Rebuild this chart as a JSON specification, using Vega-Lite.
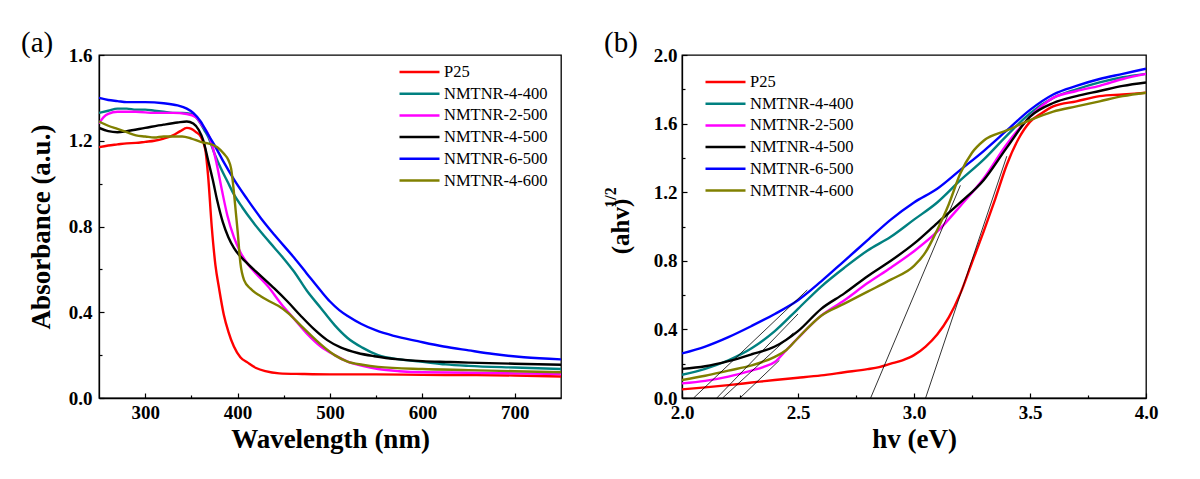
{
  "$schema": "https://vega.github.io/schema/vega-lite/v6.json",
  "padding": {"left": 20, "top": 28, "right": 5, "bottom": 5},
  "background": "white",
  "spacing": 39,
  "resolve": {"scale": {"color": "independent"}},
  "config": {
    "view": {"stroke": "black", "strokeWidth": 1.3},
    "axis": {
      "labelFont": "Liberation Serif", "labelFontWeight": "bold", "labelFontSize": 19, "labelColor": "black",
      "titleFont": "Liberation Serif", "titleFontWeight": "bold", "titleFontSize": 27, "titleColor": "black",
      "grid": false, "domainColor": "black", "domainWidth": 1.3, "tickColor": "black", "tickWidth": 1.2,
      "labelOverlap": false, "labelFlush": false, "labelBound": false, "labelPadding": 10
    },
    "legend": {
      "labelFont": "Liberation Serif", "labelFontSize": 16.5, "labelColor": "black",
      "symbolType": "stroke", "symbolSize": 1600, "symbolStrokeWidth": 2.5,
      "clipHeight": 20, "rowPadding": 1.7, "labelOffset": 3, "orient": "none", "title": null, "padding": 0
    },
    "title": {"font": "Liberation Serif", "fontSize": 29, "fontWeight": "normal", "anchor": "start", "frame": "group", "dx": -78, "offset": -12, "color": "black"}
  },
  "datasets": {
    "absorb": [
      {"sample":"P25","nm":250,"A":1.17},{"sample":"P25","nm":260,"A":1.178},{"sample":"P25","nm":270,"A":1.183},{"sample":"P25","nm":280,"A":1.188},{"sample":"P25","nm":290,"A":1.19},{"sample":"P25","nm":300,"A":1.195},{"sample":"P25","nm":310,"A":1.2},{"sample":"P25","nm":320,"A":1.21},{"sample":"P25","nm":330,"A":1.225},{"sample":"P25","nm":338,"A":1.245},{"sample":"P25","nm":345,"A":1.26},{"sample":"P25","nm":350,"A":1.255},{"sample":"P25","nm":355,"A":1.24},{"sample":"P25","nm":360,"A":1.22},{"sample":"P25","nm":365,"A":1.16},{"sample":"P25","nm":368,"A":1.04},{"sample":"P25","nm":372,"A":0.8},{"sample":"P25","nm":376,"A":0.62},{"sample":"P25","nm":380,"A":0.51},{"sample":"P25","nm":385,"A":0.39},{"sample":"P25","nm":390,"A":0.31},{"sample":"P25","nm":396,"A":0.24},{"sample":"P25","nm":403,"A":0.19},{"sample":"P25","nm":411,"A":0.165},{"sample":"P25","nm":420,"A":0.14},{"sample":"P25","nm":430,"A":0.125},{"sample":"P25","nm":445,"A":0.115},{"sample":"P25","nm":470,"A":0.112},{"sample":"P25","nm":500,"A":0.11},{"sample":"P25","nm":550,"A":0.11},{"sample":"P25","nm":600,"A":0.108},{"sample":"P25","nm":650,"A":0.107},{"sample":"P25","nm":700,"A":0.105},{"sample":"P25","nm":750,"A":0.1},
      {"sample":"NMTNR-4-400","nm":250,"A":1.33},{"sample":"NMTNR-4-400","nm":260,"A":1.34},{"sample":"NMTNR-4-400","nm":270,"A":1.35},{"sample":"NMTNR-4-400","nm":280,"A":1.35},{"sample":"NMTNR-4-400","nm":290,"A":1.345},{"sample":"NMTNR-4-400","nm":300,"A":1.345},{"sample":"NMTNR-4-400","nm":310,"A":1.34},{"sample":"NMTNR-4-400","nm":320,"A":1.335},{"sample":"NMTNR-4-400","nm":330,"A":1.33},{"sample":"NMTNR-4-400","nm":340,"A":1.33},{"sample":"NMTNR-4-400","nm":350,"A":1.325},{"sample":"NMTNR-4-400","nm":355,"A":1.31},{"sample":"NMTNR-4-400","nm":360,"A":1.28},{"sample":"NMTNR-4-400","nm":364,"A":1.25},{"sample":"NMTNR-4-400","nm":368,"A":1.22},{"sample":"NMTNR-4-400","nm":375,"A":1.14},{"sample":"NMTNR-4-400","nm":382,"A":1.07},{"sample":"NMTNR-4-400","nm":389,"A":1.01},{"sample":"NMTNR-4-400","nm":396,"A":0.95},{"sample":"NMTNR-4-400","nm":405,"A":0.89},{"sample":"NMTNR-4-400","nm":415,"A":0.83},{"sample":"NMTNR-4-400","nm":425,"A":0.775},{"sample":"NMTNR-4-400","nm":440,"A":0.7},{"sample":"NMTNR-4-400","nm":450,"A":0.65},{"sample":"NMTNR-4-400","nm":461,"A":0.59},{"sample":"NMTNR-4-400","nm":475,"A":0.5},{"sample":"NMTNR-4-400","nm":490,"A":0.42},{"sample":"NMTNR-4-400","nm":505,"A":0.34},{"sample":"NMTNR-4-400","nm":519,"A":0.28},{"sample":"NMTNR-4-400","nm":535,"A":0.235},{"sample":"NMTNR-4-400","nm":552,"A":0.2},{"sample":"NMTNR-4-400","nm":575,"A":0.18},{"sample":"NMTNR-4-400","nm":598,"A":0.17},{"sample":"NMTNR-4-400","nm":625,"A":0.157},{"sample":"NMTNR-4-400","nm":650,"A":0.15},{"sample":"NMTNR-4-400","nm":700,"A":0.142},{"sample":"NMTNR-4-400","nm":750,"A":0.135},
      {"sample":"NMTNR-2-500","nm":250,"A":1.28},{"sample":"NMTNR-2-500","nm":255,"A":1.31},{"sample":"NMTNR-2-500","nm":260,"A":1.325},{"sample":"NMTNR-2-500","nm":270,"A":1.335},{"sample":"NMTNR-2-500","nm":290,"A":1.335},{"sample":"NMTNR-2-500","nm":310,"A":1.33},{"sample":"NMTNR-2-500","nm":330,"A":1.33},{"sample":"NMTNR-2-500","nm":345,"A":1.325},{"sample":"NMTNR-2-500","nm":355,"A":1.31},{"sample":"NMTNR-2-500","nm":362,"A":1.27},{"sample":"NMTNR-2-500","nm":367,"A":1.24},{"sample":"NMTNR-2-500","nm":371,"A":1.2},{"sample":"NMTNR-2-500","nm":377,"A":1.1},{"sample":"NMTNR-2-500","nm":383,"A":0.97},{"sample":"NMTNR-2-500","nm":389,"A":0.85},{"sample":"NMTNR-2-500","nm":396,"A":0.75},{"sample":"NMTNR-2-500","nm":403,"A":0.68},{"sample":"NMTNR-2-500","nm":411,"A":0.625},{"sample":"NMTNR-2-500","nm":420,"A":0.58},{"sample":"NMTNR-2-500","nm":433,"A":0.52},{"sample":"NMTNR-2-500","nm":447,"A":0.44},{"sample":"NMTNR-2-500","nm":461,"A":0.37},{"sample":"NMTNR-2-500","nm":475,"A":0.3},{"sample":"NMTNR-2-500","nm":490,"A":0.24},{"sample":"NMTNR-2-500","nm":505,"A":0.2},{"sample":"NMTNR-2-500","nm":519,"A":0.17},{"sample":"NMTNR-2-500","nm":535,"A":0.15},{"sample":"NMTNR-2-500","nm":552,"A":0.135},{"sample":"NMTNR-2-500","nm":575,"A":0.125},{"sample":"NMTNR-2-500","nm":600,"A":0.12},{"sample":"NMTNR-2-500","nm":650,"A":0.118},{"sample":"NMTNR-2-500","nm":700,"A":0.115},{"sample":"NMTNR-2-500","nm":750,"A":0.112},
      {"sample":"NMTNR-4-500","nm":250,"A":1.26},{"sample":"NMTNR-4-500","nm":260,"A":1.245},{"sample":"NMTNR-4-500","nm":270,"A":1.24},{"sample":"NMTNR-4-500","nm":280,"A":1.245},{"sample":"NMTNR-4-500","nm":300,"A":1.26},{"sample":"NMTNR-4-500","nm":320,"A":1.275},{"sample":"NMTNR-4-500","nm":335,"A":1.285},{"sample":"NMTNR-4-500","nm":345,"A":1.29},{"sample":"NMTNR-4-500","nm":352,"A":1.28},{"sample":"NMTNR-4-500","nm":358,"A":1.25},{"sample":"NMTNR-4-500","nm":363,"A":1.2},{"sample":"NMTNR-4-500","nm":368,"A":1.11},{"sample":"NMTNR-4-500","nm":373,"A":1.02},{"sample":"NMTNR-4-500","nm":378,"A":0.92},{"sample":"NMTNR-4-500","nm":384,"A":0.82},{"sample":"NMTNR-4-500","nm":390,"A":0.75},{"sample":"NMTNR-4-500","nm":396,"A":0.7},{"sample":"NMTNR-4-500","nm":410,"A":0.63},{"sample":"NMTNR-4-500","nm":425,"A":0.57},{"sample":"NMTNR-4-500","nm":440,"A":0.51},{"sample":"NMTNR-4-500","nm":454,"A":0.45},{"sample":"NMTNR-4-500","nm":468,"A":0.385},{"sample":"NMTNR-4-500","nm":483,"A":0.32},{"sample":"NMTNR-4-500","nm":497,"A":0.27},{"sample":"NMTNR-4-500","nm":512,"A":0.235},{"sample":"NMTNR-4-500","nm":530,"A":0.21},{"sample":"NMTNR-4-500","nm":548,"A":0.195},{"sample":"NMTNR-4-500","nm":575,"A":0.18},{"sample":"NMTNR-4-500","nm":600,"A":0.172},{"sample":"NMTNR-4-500","nm":630,"A":0.168},{"sample":"NMTNR-4-500","nm":650,"A":0.165},{"sample":"NMTNR-4-500","nm":700,"A":0.16},{"sample":"NMTNR-4-500","nm":750,"A":0.155},
      {"sample":"NMTNR-6-500","nm":250,"A":1.4},{"sample":"NMTNR-6-500","nm":260,"A":1.39},{"sample":"NMTNR-6-500","nm":270,"A":1.385},{"sample":"NMTNR-6-500","nm":280,"A":1.38},{"sample":"NMTNR-6-500","nm":300,"A":1.38},{"sample":"NMTNR-6-500","nm":320,"A":1.375},{"sample":"NMTNR-6-500","nm":335,"A":1.365},{"sample":"NMTNR-6-500","nm":345,"A":1.35},{"sample":"NMTNR-6-500","nm":352,"A":1.33},{"sample":"NMTNR-6-500","nm":360,"A":1.29},{"sample":"NMTNR-6-500","nm":368,"A":1.23},{"sample":"NMTNR-6-500","nm":375,"A":1.18},{"sample":"NMTNR-6-500","nm":385,"A":1.1},{"sample":"NMTNR-6-500","nm":396,"A":1.02},{"sample":"NMTNR-6-500","nm":410,"A":0.93},{"sample":"NMTNR-6-500","nm":425,"A":0.84},{"sample":"NMTNR-6-500","nm":440,"A":0.76},{"sample":"NMTNR-6-500","nm":461,"A":0.655},{"sample":"NMTNR-6-500","nm":475,"A":0.58},{"sample":"NMTNR-6-500","nm":490,"A":0.5},{"sample":"NMTNR-6-500","nm":500,"A":0.45},{"sample":"NMTNR-6-500","nm":510,"A":0.41},{"sample":"NMTNR-6-500","nm":520,"A":0.38},{"sample":"NMTNR-6-500","nm":534,"A":0.345},{"sample":"NMTNR-6-500","nm":550,"A":0.315},{"sample":"NMTNR-6-500","nm":569,"A":0.29},{"sample":"NMTNR-6-500","nm":595,"A":0.265},{"sample":"NMTNR-6-500","nm":623,"A":0.24},{"sample":"NMTNR-6-500","nm":650,"A":0.222},{"sample":"NMTNR-6-500","nm":677,"A":0.205},{"sample":"NMTNR-6-500","nm":710,"A":0.19},{"sample":"NMTNR-6-500","nm":750,"A":0.18},
      {"sample":"NMTNR-4-600","nm":250,"A":1.29},{"sample":"NMTNR-4-600","nm":260,"A":1.27},{"sample":"NMTNR-4-600","nm":270,"A":1.255},{"sample":"NMTNR-4-600","nm":280,"A":1.24},{"sample":"NMTNR-4-600","nm":290,"A":1.225},{"sample":"NMTNR-4-600","nm":300,"A":1.22},{"sample":"NMTNR-4-600","nm":310,"A":1.215},{"sample":"NMTNR-4-600","nm":320,"A":1.22},{"sample":"NMTNR-4-600","nm":330,"A":1.22},{"sample":"NMTNR-4-600","nm":340,"A":1.22},{"sample":"NMTNR-4-600","nm":350,"A":1.21},{"sample":"NMTNR-4-600","nm":360,"A":1.195},{"sample":"NMTNR-4-600","nm":370,"A":1.185},{"sample":"NMTNR-4-600","nm":378,"A":1.17},{"sample":"NMTNR-4-600","nm":385,"A":1.14},{"sample":"NMTNR-4-600","nm":390,"A":1.11},{"sample":"NMTNR-4-600","nm":393,"A":1.07},{"sample":"NMTNR-4-600","nm":396,"A":0.96},{"sample":"NMTNR-4-600","nm":398,"A":0.87},{"sample":"NMTNR-4-600","nm":400,"A":0.78},{"sample":"NMTNR-4-600","nm":403,"A":0.63},{"sample":"NMTNR-4-600","nm":407,"A":0.55},{"sample":"NMTNR-4-600","nm":414,"A":0.51},{"sample":"NMTNR-4-600","nm":425,"A":0.475},{"sample":"NMTNR-4-600","nm":435,"A":0.45},{"sample":"NMTNR-4-600","nm":444,"A":0.43},{"sample":"NMTNR-4-600","nm":455,"A":0.395},{"sample":"NMTNR-4-600","nm":468,"A":0.34},{"sample":"NMTNR-4-600","nm":480,"A":0.29},{"sample":"NMTNR-4-600","nm":490,"A":0.25},{"sample":"NMTNR-4-600","nm":505,"A":0.2},{"sample":"NMTNR-4-600","nm":519,"A":0.17},{"sample":"NMTNR-4-600","nm":535,"A":0.155},{"sample":"NMTNR-4-600","nm":552,"A":0.145},{"sample":"NMTNR-4-600","nm":600,"A":0.135},{"sample":"NMTNR-4-600","nm":650,"A":0.13},{"sample":"NMTNR-4-600","nm":700,"A":0.125},{"sample":"NMTNR-4-600","nm":750,"A":0.12}
    ],
    "tauc": [
      {"sample":"P25","eV":2.0,"F":0.05},{"sample":"P25","eV":2.1,"F":0.062},{"sample":"P25","eV":2.2,"F":0.075},{"sample":"P25","eV":2.3,"F":0.09},{"sample":"P25","eV":2.4,"F":0.105},{"sample":"P25","eV":2.5,"F":0.118},{"sample":"P25","eV":2.6,"F":0.132},{"sample":"P25","eV":2.7,"F":0.15},{"sample":"P25","eV":2.8,"F":0.168},{"sample":"P25","eV":2.85,"F":0.18},{"sample":"P25","eV":2.9,"F":0.2},{"sample":"P25","eV":2.95,"F":0.22},{"sample":"P25","eV":3.0,"F":0.25},{"sample":"P25","eV":3.05,"F":0.3},{"sample":"P25","eV":3.1,"F":0.37},{"sample":"P25","eV":3.15,"F":0.47},{"sample":"P25","eV":3.2,"F":0.61},{"sample":"P25","eV":3.25,"F":0.79},{"sample":"P25","eV":3.3,"F":0.97},{"sample":"P25","eV":3.35,"F":1.16},{"sample":"P25","eV":3.4,"F":1.36},{"sample":"P25","eV":3.45,"F":1.51},{"sample":"P25","eV":3.5,"F":1.61},{"sample":"P25","eV":3.55,"F":1.66},{"sample":"P25","eV":3.6,"F":1.7},{"sample":"P25","eV":3.7,"F":1.73},{"sample":"P25","eV":3.8,"F":1.76},{"sample":"P25","eV":3.9,"F":1.77},{"sample":"P25","eV":4.0,"F":1.78},
      {"sample":"NMTNR-4-400","eV":2.0,"F":0.135},{"sample":"NMTNR-4-400","eV":2.1,"F":0.17},{"sample":"NMTNR-4-400","eV":2.2,"F":0.22},{"sample":"NMTNR-4-400","eV":2.3,"F":0.29},{"sample":"NMTNR-4-400","eV":2.4,"F":0.39},{"sample":"NMTNR-4-400","eV":2.5,"F":0.52},{"sample":"NMTNR-4-400","eV":2.6,"F":0.65},{"sample":"NMTNR-4-400","eV":2.7,"F":0.76},{"sample":"NMTNR-4-400","eV":2.8,"F":0.86},{"sample":"NMTNR-4-400","eV":2.9,"F":0.94},{"sample":"NMTNR-4-400","eV":3.0,"F":1.04},{"sample":"NMTNR-4-400","eV":3.1,"F":1.14},{"sample":"NMTNR-4-400","eV":3.2,"F":1.27},{"sample":"NMTNR-4-400","eV":3.3,"F":1.39},{"sample":"NMTNR-4-400","eV":3.4,"F":1.53},{"sample":"NMTNR-4-400","eV":3.5,"F":1.66},{"sample":"NMTNR-4-400","eV":3.6,"F":1.75},{"sample":"NMTNR-4-400","eV":3.7,"F":1.8},{"sample":"NMTNR-4-400","eV":3.8,"F":1.84},{"sample":"NMTNR-4-400","eV":3.9,"F":1.87},{"sample":"NMTNR-4-400","eV":4.0,"F":1.89},
      {"sample":"NMTNR-2-500","eV":2.0,"F":0.085},{"sample":"NMTNR-2-500","eV":2.1,"F":0.1},{"sample":"NMTNR-2-500","eV":2.2,"F":0.125},{"sample":"NMTNR-2-500","eV":2.3,"F":0.16},{"sample":"NMTNR-2-500","eV":2.35,"F":0.18},{"sample":"NMTNR-2-500","eV":2.4,"F":0.21},{"sample":"NMTNR-2-500","eV":2.45,"F":0.28},{"sample":"NMTNR-2-500","eV":2.5,"F":0.35},{"sample":"NMTNR-2-500","eV":2.6,"F":0.48},{"sample":"NMTNR-2-500","eV":2.7,"F":0.57},{"sample":"NMTNR-2-500","eV":2.8,"F":0.67},{"sample":"NMTNR-2-500","eV":2.9,"F":0.76},{"sample":"NMTNR-2-500","eV":3.0,"F":0.856},{"sample":"NMTNR-2-500","eV":3.1,"F":0.97},{"sample":"NMTNR-2-500","eV":3.2,"F":1.12},{"sample":"NMTNR-2-500","eV":3.3,"F":1.28},{"sample":"NMTNR-2-500","eV":3.4,"F":1.48},{"sample":"NMTNR-2-500","eV":3.5,"F":1.64},{"sample":"NMTNR-2-500","eV":3.6,"F":1.75},{"sample":"NMTNR-2-500","eV":3.7,"F":1.79},{"sample":"NMTNR-2-500","eV":3.8,"F":1.82},{"sample":"NMTNR-2-500","eV":3.9,"F":1.86},{"sample":"NMTNR-2-500","eV":4.0,"F":1.89},
      {"sample":"NMTNR-4-500","eV":2.0,"F":0.17},{"sample":"NMTNR-4-500","eV":2.1,"F":0.185},{"sample":"NMTNR-4-500","eV":2.2,"F":0.215},{"sample":"NMTNR-4-500","eV":2.3,"F":0.255},{"sample":"NMTNR-4-500","eV":2.4,"F":0.3},{"sample":"NMTNR-4-500","eV":2.5,"F":0.39},{"sample":"NMTNR-4-500","eV":2.6,"F":0.52},{"sample":"NMTNR-4-500","eV":2.7,"F":0.61},{"sample":"NMTNR-4-500","eV":2.8,"F":0.71},{"sample":"NMTNR-4-500","eV":2.9,"F":0.8},{"sample":"NMTNR-4-500","eV":3.0,"F":0.9},{"sample":"NMTNR-4-500","eV":3.1,"F":1.02},{"sample":"NMTNR-4-500","eV":3.2,"F":1.14},{"sample":"NMTNR-4-500","eV":3.3,"F":1.27},{"sample":"NMTNR-4-500","eV":3.4,"F":1.46},{"sample":"NMTNR-4-500","eV":3.5,"F":1.64},{"sample":"NMTNR-4-500","eV":3.6,"F":1.72},{"sample":"NMTNR-4-500","eV":3.7,"F":1.76},{"sample":"NMTNR-4-500","eV":3.8,"F":1.79},{"sample":"NMTNR-4-500","eV":3.9,"F":1.82},{"sample":"NMTNR-4-500","eV":4.0,"F":1.84},
      {"sample":"NMTNR-6-500","eV":2.0,"F":0.26},{"sample":"NMTNR-6-500","eV":2.1,"F":0.3},{"sample":"NMTNR-6-500","eV":2.2,"F":0.355},{"sample":"NMTNR-6-500","eV":2.3,"F":0.42},{"sample":"NMTNR-6-500","eV":2.4,"F":0.49},{"sample":"NMTNR-6-500","eV":2.5,"F":0.57},{"sample":"NMTNR-6-500","eV":2.6,"F":0.68},{"sample":"NMTNR-6-500","eV":2.7,"F":0.8},{"sample":"NMTNR-6-500","eV":2.8,"F":0.92},{"sample":"NMTNR-6-500","eV":2.9,"F":1.04},{"sample":"NMTNR-6-500","eV":3.0,"F":1.14},{"sample":"NMTNR-6-500","eV":3.1,"F":1.22},{"sample":"NMTNR-6-500","eV":3.2,"F":1.33},{"sample":"NMTNR-6-500","eV":3.3,"F":1.44},{"sample":"NMTNR-6-500","eV":3.4,"F":1.56},{"sample":"NMTNR-6-500","eV":3.5,"F":1.68},{"sample":"NMTNR-6-500","eV":3.6,"F":1.77},{"sample":"NMTNR-6-500","eV":3.7,"F":1.82},{"sample":"NMTNR-6-500","eV":3.8,"F":1.86},{"sample":"NMTNR-6-500","eV":3.9,"F":1.89},{"sample":"NMTNR-6-500","eV":4.0,"F":1.92},
      {"sample":"NMTNR-4-600","eV":2.0,"F":0.105},{"sample":"NMTNR-4-600","eV":2.1,"F":0.13},{"sample":"NMTNR-4-600","eV":2.2,"F":0.16},{"sample":"NMTNR-4-600","eV":2.3,"F":0.19},{"sample":"NMTNR-4-600","eV":2.4,"F":0.24},{"sample":"NMTNR-4-600","eV":2.45,"F":0.28},{"sample":"NMTNR-4-600","eV":2.5,"F":0.35},{"sample":"NMTNR-4-600","eV":2.6,"F":0.48},{"sample":"NMTNR-4-600","eV":2.7,"F":0.55},{"sample":"NMTNR-4-600","eV":2.8,"F":0.62},{"sample":"NMTNR-4-600","eV":2.9,"F":0.69},{"sample":"NMTNR-4-600","eV":3.0,"F":0.77},{"sample":"NMTNR-4-600","eV":3.05,"F":0.85},{"sample":"NMTNR-4-600","eV":3.1,"F":0.98},{"sample":"NMTNR-4-600","eV":3.15,"F":1.13},{"sample":"NMTNR-4-600","eV":3.2,"F":1.31},{"sample":"NMTNR-4-600","eV":3.25,"F":1.43},{"sample":"NMTNR-4-600","eV":3.3,"F":1.5},{"sample":"NMTNR-4-600","eV":3.4,"F":1.56},{"sample":"NMTNR-4-600","eV":3.5,"F":1.62},{"sample":"NMTNR-4-600","eV":3.6,"F":1.67},{"sample":"NMTNR-4-600","eV":3.7,"F":1.7},{"sample":"NMTNR-4-600","eV":3.8,"F":1.73},{"sample":"NMTNR-4-600","eV":3.9,"F":1.76},{"sample":"NMTNR-4-600","eV":4.0,"F":1.78}
    ],
    "tangents": [
      {"seg":"t1","eV":2.05,"F":0},{"seg":"t1","eV":2.54,"F":0.63},
      {"seg":"t2","eV":2.15,"F":0},{"seg":"t2","eV":2.5,"F":0.49},
      {"seg":"t3","eV":2.175,"F":0},{"seg":"t3","eV":2.48,"F":0.38},
      {"seg":"t4","eV":2.25,"F":0},{"seg":"t4","eV":2.42,"F":0.22},
      {"seg":"t5","eV":2.813,"F":0},{"seg":"t5","eV":3.2,"F":1.24},
      {"seg":"t6","eV":3.05,"F":0},{"seg":"t6","eV":3.4,"F":1.41}
    ]
  },
  "hconcat": [
    {
      "width": 462, "height": 343,
      "title": {"text": "(a)"},
      "data": {"name": "absorb"},
      "mark": {"type": "line", "strokeWidth": 2.4, "interpolate": "monotone", "clip": true},
      "encoding": {
        "x": {"field": "nm", "type": "quantitative",
          "scale": {"domain": [250, 750], "nice": false, "zero": false},
          "axis": {"title": "Wavelength (nm)", "values": [300, 350, 400, 450, 500, 550, 600, 650, 700],
            "labelExpr": "datum.value % 100 === 0 ? datum.label : ''",
            "tickSize": {"condition": {"test": "datum.value % 100 === 0", "value": -5}, "value": -3},
            "titlePadding": 2}},
        "y": {"field": "A", "type": "quantitative",
          "scale": {"domain": [0, 1.6], "nice": false},
          "axis": {"title": "Absorbance (a.u.)", "values": [0, 0.2, 0.4, 0.6, 0.8, 1.0, 1.2, 1.4, 1.6],
            "labelExpr": "round(datum.value * 10) % 4 === 0 ? format(datum.value, '.1f') : ''",
            "tickSize": {"condition": {"test": "round(datum.value * 10) % 4 === 0", "value": -5}, "value": -3},
            "labelPadding": 12, "titlePadding": 13}},
        "color": {"field": "sample", "type": "nominal",
          "scale": {"domain": ["P25", "NMTNR-4-400", "NMTNR-2-500", "NMTNR-4-500", "NMTNR-6-500", "NMTNR-4-600"],
            "range": ["#ff0000", "#008080", "#ff00ff", "#000000", "#0000ff", "#808000"]},
          "legend": {"legendX": 299, "legendY": 7}}
      }
    },
    {
      "width": 464, "height": 343,
      "title": {"text": "(b)"},
      "resolve": {"axis": {"y": "independent"}},
      "layer": [
        {
          "data": {"name": "tauc"},
          "mark": {"type": "line", "strokeWidth": 2.4, "interpolate": "monotone", "clip": true},
          "encoding": {
            "x": {"field": "eV", "type": "quantitative",
              "scale": {"domain": [2.0, 4.0], "nice": false, "zero": false},
              "axis": {"title": "hv (eV)", "values": [2.0, 2.25, 2.5, 2.75, 3.0, 3.25, 3.5, 3.75, 4.0],
                "labelExpr": "round(datum.value * 100) % 50 === 0 ? format(datum.value, '.1f') : ''",
                "tickSize": {"condition": {"test": "round(datum.value * 100) % 50 === 0", "value": -5}, "value": -3},
                "titlePadding": 2}},
            "y": {"field": "F", "type": "quantitative",
              "scale": {"domain": [0, 2.0], "nice": false},
              "axis": {"title": "(ahv)", "values": [0, 0.2, 0.4, 0.6, 0.8, 1.0, 1.2, 1.4, 1.6, 1.8, 2.0],
                "labelExpr": "round(datum.value * 10) % 4 === 0 ? format(datum.value, '.1f') : ''",
                "tickSize": {"condition": {"test": "round(datum.value * 10) % 4 === 0", "value": -5}, "value": -3},
                "titleFontSize": 25, "titleX": -49, "titleY": 171}},
            "color": {"field": "sample", "type": "nominal",
              "scale": {"domain": ["P25", "NMTNR-4-400", "NMTNR-2-500", "NMTNR-4-500", "NMTNR-6-500", "NMTNR-4-600"],
                "range": ["#ff0000", "#008080", "#ff00ff", "#000000", "#0000ff", "#808000"]},
              "legend": {"legendX": 22, "legendY": 17}}
          }
        },
        {
          "data": {"name": "tangents"},
          "mark": {"type": "line", "strokeWidth": 0.8, "color": "black", "clip": true},
          "encoding": {
            "x": {"field": "eV", "type": "quantitative",
              "axis": {"title": "hv (eV)", "values": [2.0, 2.25, 2.5, 2.75, 3.0, 3.25, 3.5, 3.75, 4.0],
                "labelExpr": "round(datum.value * 100) % 50 === 0 ? format(datum.value, '.1f') : ''",
                "tickSize": {"condition": {"test": "round(datum.value * 100) % 50 === 0", "value": -5}, "value": -3},
                "titlePadding": 2}},
            "y": {"field": "F", "type": "quantitative",
              "axis": {"title": "1/2", "orient": "left", "labels": false, "ticks": false, "domain": false,
                "titleFontSize": 16, "titleX": -64, "titleY": 142}},
            "detail": {"field": "seg", "type": "nominal"}
          }
        }
      ]
    }
  ]
}
